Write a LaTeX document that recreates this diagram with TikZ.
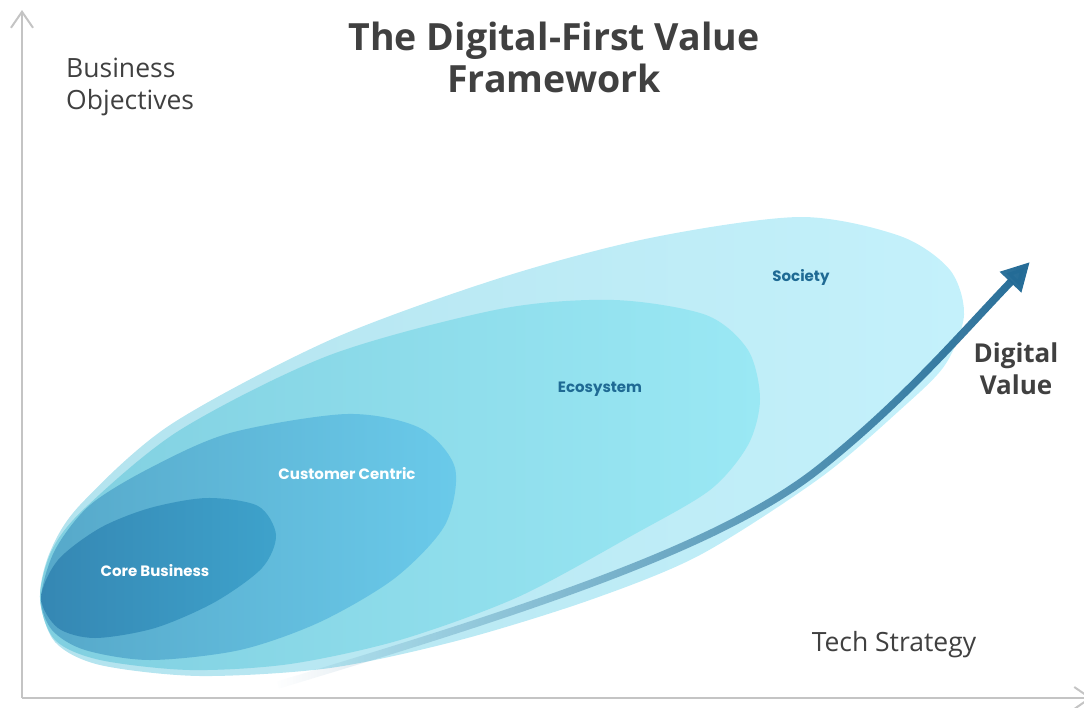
\documentclass[tikz,border=0pt]{standalone}
\usepackage{fontspec}
\setmainfont{Open Sans}
\newfontfamily\ringfont{Poppins}
\usetikzlibrary{arrows.meta,fadings}

\definecolor{axisgray}{HTML}{C4C4C4}
\definecolor{textgray}{HTML}{404040}
\definecolor{societyL}{HTML}{B3E3EE}
\definecolor{societyR}{HTML}{C4F1FB}
\definecolor{ecoL}{HTML}{80CFE0}
\definecolor{ecoR}{HTML}{9AE8F4}
\definecolor{custL}{HTML}{56A8C9}
\definecolor{custR}{HTML}{6ACAEA}
\definecolor{coreL}{HTML}{3587B3}
\definecolor{coreR}{HTML}{3EA2CB}
\definecolor{valueblue}{HTML}{236B96}
\definecolor{ringtext}{HTML}{1F6A94}

\tikzfading[name=valuefade, left color=transparent!100, middle color=transparent!0, right color=transparent!0]

\begin{document}
\begin{tikzpicture}[x=1pt,y=-1pt,
  axisline/.style={line width=2, axisgray, -{Straight Barb[length=16,width=22]}},
  ringlabel/.style={font=\ringfont\bfseries\fontsize{15}{18}\selectfont},
  sidelabel/.style={font=\fontsize{26.5}{32}\selectfont, text=textgray, align=left, inner sep=0}]
\useasboundingbox (0,0) rectangle (1084,707);

% rings, back to front
\shade[left color=societyL, right color=societyR] plot[smooth cycle] coordinates {
  (40,598) (50,552) (80,505) (170,425) (330,340) (500,278) (650,238) (800,217)
  (900,236) (950,270) (964,315) (945,365) (900,410) (820,478) (700,555) (590,600)
  (460,640) (330,668) (200,676) (100,665) (55,642)};
\shade[left color=ecoL, right color=ecoR] plot[smooth cycle] coordinates {
  (40,598) (52,550) (85,508) (180,430) (330,355) (500,309) (614,300) (706,315)
  (748,350) (760,399) (748,445) (710,490) (633,535) (518,597) (400,640) (290,664)
  (190,670) (100,660) (55,640)};
\shade[left color=custL, right color=custR] plot[smooth cycle] coordinates {
  (41,598) (55,550) (90,505) (150,468) (230,433) (347,414) (420,428) (455,468)
  (445,525) (395,578) (320,622) (240,650) (150,660) (85,650) (52,630)};
\shade[left color=coreL, right color=coreR] plot[smooth cycle] coordinates {
  (41,598) (58,560) (100,528) (150,508) (207,498) (258,506) (276,535) (262,568)
  (215,602) (155,628) (95,638) (58,628)};

\node[ringlabel, text=ringtext] (society) at (801,277) {Society};
\node[ringlabel, text=ringtext] (ecosystem) at (600,389) {Ecosystem};
\node[ringlabel, text=white] (customer) at (347,474) {Customer Centric};
\node[ringlabel, text=white] (core) at (155,571) {Core Business};

% digital value arrow
\coordinate (dvstart) at (278,685);
\coordinate (dvtip) at (1030,262);
\draw[line width=7.5, valueblue, path fading=valuefade, -{Triangle[length=28,width=28]}]
  (dvstart) .. controls (520,612) and (720,548) .. (820,468)
  .. controls (905,400) and (960,335) .. (dvtip);

% axes
\coordinate (origin) at (22,698);
\coordinate (ytop) at (22,10);
\coordinate (xend) at (1092,698);
\draw[axisline] (origin) -- (ytop);
\draw[axisline] (origin) -- (xend);

\node[font=\bfseries\fontsize{37.5}{42}\selectfont, text=textgray, align=center] (title) at (554,57) {The Digital-First Value\\Framework};
\node[sidelabel, anchor=west] (objectives) at (66,87) {Business\\Objectives};
\node[sidelabel] (tech) at (894,645) {Tech Strategy};
\node[font=\bfseries\fontsize{26}{32}\selectfont, text=textgray, align=center] (digital) at (1016,369) {Digital\\Value};
\end{tikzpicture}
\end{document}
